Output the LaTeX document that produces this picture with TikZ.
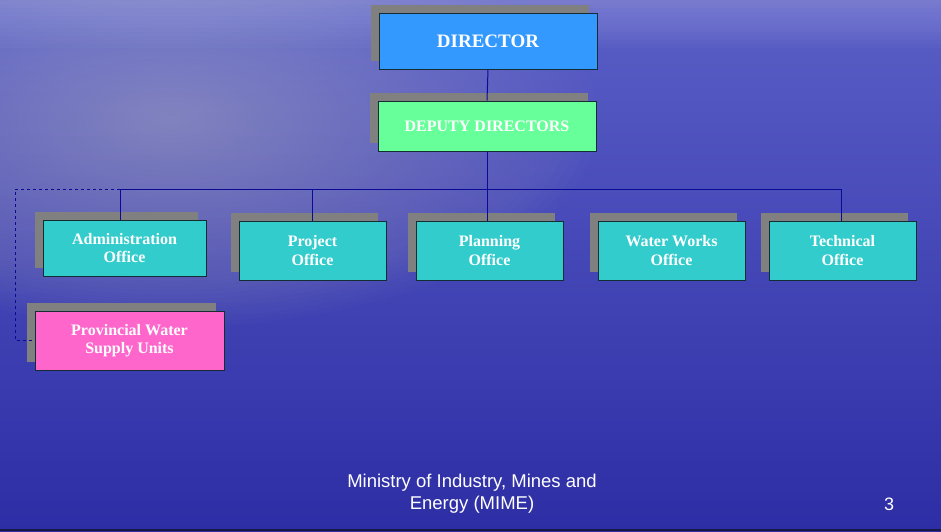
\documentclass[tikz,border=0pt]{standalone}
\usepackage{fontspec}
\setmainfont{Liberation Serif}
\newfontfamily\arialf{Liberation Sans}
\usetikzlibrary{shadows}
\definecolor{bgtop}{RGB}{90,95,198}
\definecolor{bgbot}{RGB}{45,45,165}
\definecolor{dirc}{RGB}{51,153,255}
\definecolor{depc}{RGB}{102,255,153}
\definecolor{offc}{RGB}{51,204,204}
\definecolor{provc}{RGB}{255,102,204}
\definecolor{edgec}{RGB}{20,45,50}
\definecolor{linec}{RGB}{10,10,150}
\definecolor{shadc}{RGB}{128,128,128}
\tikzset{
  orgbox/.style={draw=edgec, line width=1pt, inner sep=0pt, align=center,
    text=white, font=\bfseries\fontsize{16}{18.5}\selectfont,
    general shadow={fill=shadc, shadow xshift=-8pt, shadow yshift=8pt}},
  conn/.style={draw=linec, line width=1pt},
}
\begin{document}
\begin{tikzpicture}[x=1pt,y=-1pt]
\useasboundingbox (0,0) rectangle (941,531);
% background
\shade[top color=bgtop, bottom color=bgbot] (0,0) rectangle (941,531);
\foreach \r in {1,...,45}
  \fill[white, fill opacity=0.012] (170,120) ellipse ({9.5*\r} and {4.6*\r});
\foreach \r in {1,...,12}
  \fill[white, fill opacity=0.02] (0,0) rectangle (941,{4*\r});
\draw[draw={rgb,255:red,25;green,25;blue,70}, line width=2pt] (0,530) -- (941,530);
% boxes
\node[orgbox, fill=dirc, minimum width=218pt, minimum height=56pt,
  font=\bfseries\fontsize{19}{23}\selectfont] (dir) at (488,41) {DIRECTOR};
\node[orgbox, fill=depc, minimum width=218pt, minimum height=50pt,
  font=\bfseries\fontsize{16}{20}\selectfont] (dep) at (487,126) {DEPUTY DIRECTORS};
\node[orgbox, fill=offc, minimum width=163pt, minimum height=56pt] (adm) at (124.5,248) {Administration\\Office};
\node[orgbox, fill=offc, minimum width=147pt, minimum height=59pt] (proj) at (312.5,250.5) {Project\\Office};
\node[orgbox, fill=offc, minimum width=147pt, minimum height=59pt] (plan) at (489.5,250.5) {Planning\\Office};
\node[orgbox, fill=offc, minimum width=147pt, minimum height=59pt] (water) at (671.5,250.5) {Water Works\\Office};
\node[orgbox, fill=offc, minimum width=147pt, minimum height=59pt] (tech) at (842.5,250.5) {Technical\\Office};
\node[orgbox, fill=provc, minimum width=189pt, minimum height=59pt] (prov) at (129.5,340.5) {Provincial Water\\Supply Units};
% connectors
\coordinate (busL) at (120,189);
\coordinate (busR) at (841,189);
\coordinate (dashL) at (15,189);
\draw[conn] (dir.south) -- (dep.north);
\draw[conn] (busL) -- (busR);
\draw[conn] (dep.south) -- (dep.south |- plan.north);
\draw[conn] (busL) -- (busL |- adm.north);
\draw[conn] (proj.north |- busL) -- (proj.north);
\draw[conn] (busR) -- (busR |- tech.north);
\draw[conn, dashed, line width=0.8pt] (busL) -- (dashL) |- (prov.west);
% footer
\node[text=white, font=\arialf\fontsize{18.5}{22}\selectfont, align=center] (foot) at (472,494)
  {Ministry of Industry, Mines and\\Energy (MIME)};
\node[text=white, font=\arialf\fontsize{18}{22}\selectfont] (pg) at (889,504) {3};
\end{tikzpicture}
\end{document}
